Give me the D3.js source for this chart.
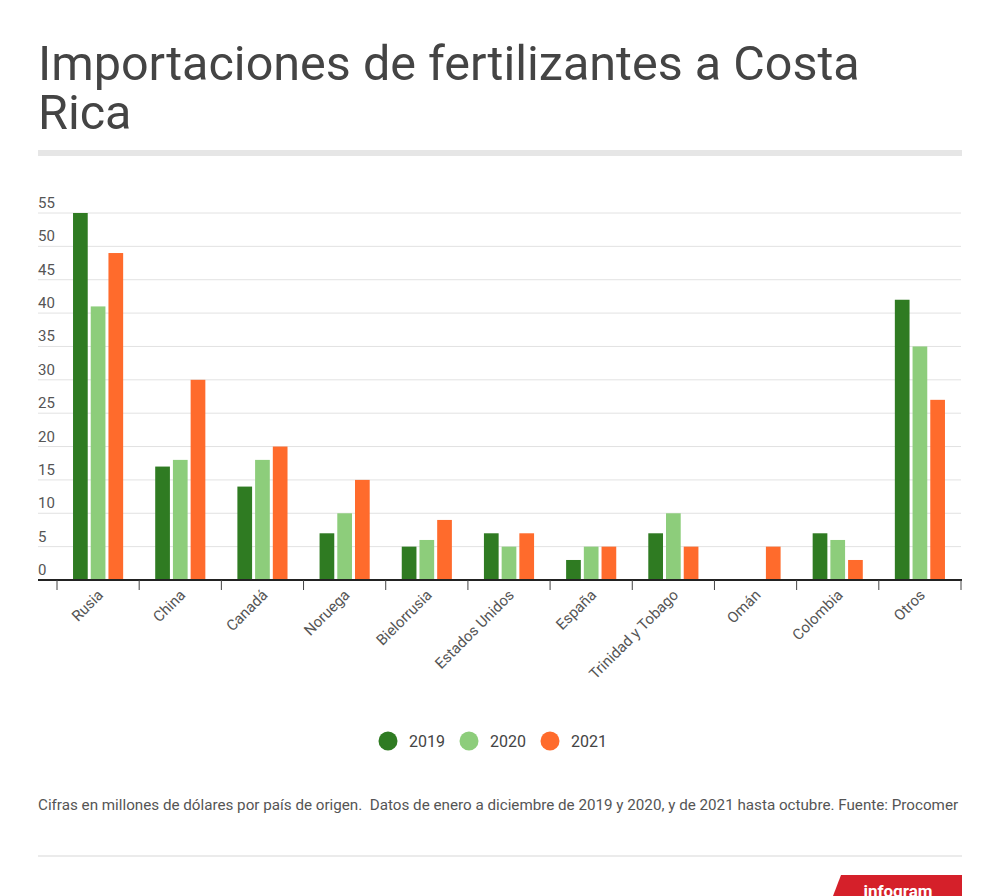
<!DOCTYPE html>
<html>
<head>
<meta charset="utf-8">
<script src="https://cdn.jsdelivr.net/npm/d3@7"></script>
<style>
  body { margin: 0; background: #fff; }
  text { font-family: Roboto, "Noto Sans", sans-serif; }
</style>
</head>
<body>
<div id="chart"></div>
<script>
// datos: millones de dólares
var paises = ["Rusia", "China", "Canadá", "Noruega", "Bielorrusia", "Estados Unidos",
  "España", "Trinidad y Tobago", "Omán", "Colombia", "Otros"];
var anios = ["2019", "2020", "2021"];
var v2019 = [55, 17, 14, 7, 5, 7, 3, 7, 0, 7, 42];
var v2020 = [41, 18, 18, 10, 6, 5, 5, 10, 0, 6, 35];
var v2021 = [49, 30, 20, 15, 9, 7, 5, 5, 5, 3, 27];
var yTicks = [0, 5, 10, 15, 20, 25, 30, 35, 40, 45, 50, 55];
var colores = ["#2f7b22", "#8dcd7b", "#ff6b2c"];

var series = [v2019, v2020, v2021];
var filas = paises.map(function(p, i) {
  return {pais: p, valores: series.map(function(s) { return s[i]; })};
});

var W = 1000, H = 896;
var svg = d3.select('#chart').append('svg').attr('width', W).attr('height', H);

// titulo (dos lineas)
svg.append('text').attr('x', 38).attr('y', 80)
  .style('font-size', '48.5px').attr('fill', '#444')
  .text('Importaciones de fertilizantes a Costa');
svg.append('text').attr('x', 38).attr('y', 129)
  .style('font-size', '48.5px').attr('fill', '#444')
  .text('Rica');

svg.append('rect').attr('x', 38).attr('y', 150).attr('width', 924).attr('height', 6).attr('fill', '#e6e6e6');

var x0 = d3.scaleBand().domain(paises).range([57, 961]).paddingInner(0.39).paddingOuter(0.195);
var x1 = d3.scaleBand().domain(anios).range([0, x0.bandwidth()]).paddingInner(0.17);
var y = d3.scaleLinear().domain([0, 55]).range([580, 213]);

// rejilla
svg.append('g').selectAll('line').data(yTicks.filter(function(d) { return d > 0; })).join('line')
  .attr('x1', 38).attr('x2', 961)
  .attr('y1', function(d) { return y(d); }).attr('y2', function(d) { return y(d); })
  .attr('stroke', '#e2e2e2').attr('stroke-width', 1);

svg.append('g').selectAll('text').data(yTicks).join('text')
  .attr('x', 38).attr('y', function(d) { return y(d) - 5; })
  .style('font-size', '15px').attr('fill', '#555')
  .text(function(d) { return d; });

// barras
svg.append('g').selectAll('g').data(filas).join('g')
  .attr('transform', function(d) { return 'translate(' + x0(d.pais) + ',0)'; })
  .selectAll('rect').data(function(d) { return d.valores.map(function(v, k) { return {k: k, v: v}; }); })
  .join('rect')
  .attr('x', function(d) { return x1(anios[d.k]); })
  .attr('width', x1.bandwidth())
  .attr('y', function(d) { return y(d.v); })
  .attr('height', function(d) { return y(0) - y(d.v); })
  .attr('fill', function(d) { return colores[d.k]; });

// eje x
var ejeX = svg.append('g').attr('transform', 'translate(0,580)');
ejeX.append('line').attr('x1', 38).attr('x2', 962).attr('stroke', '#222').attr('stroke-width', 2);
var bordes = paises.map(function(p) { return x0(p) - x0.step() * x0.paddingOuter(); });
bordes.push(961);
ejeX.selectAll('line.tick').data(bordes).join('line').attr('class', 'tick')
  .attr('x1', function(d) { return d; }).attr('x2', function(d) { return d; })
  .attr('y1', 0).attr('y2', 10).attr('stroke', '#444').attr('stroke-width', 1);
ejeX.selectAll('text').data(paises).join('text')
  .attr('text-anchor', 'end')
  .attr('transform', function(d) { return 'translate(' + (x0(d) + x0.bandwidth() / 2 + 6) + ',16) rotate(-45)'; })
  .style('font-size', '15px').attr('fill', '#555')
  .text(function(d) { return d; });

// leyenda
var ley = svg.append('g').attr('transform', 'translate(388,741)');
var items = ley.selectAll('g').data(anios).join('g')
  .attr('transform', function(d, i) { return 'translate(' + (i * 81) + ',0)'; });
items.append('circle').attr('r', 9.5).attr('fill', function(d, i) { return colores[i]; });
items.append('text').attr('x', 21).attr('y', 5.5).style('font-size', '16px').attr('fill', '#444')
  .text(function(d) { return d; });

// nota
svg.append('text').attr('x', 38).attr('y', 810).style('font-size', '15.2px').attr('fill', '#555')
  .attr('xml:space', 'preserve')
  .text('Cifras en millones de dólares por país de origen.  Datos de enero a diciembre de 2019 y 2020, y de 2021 hasta octubre. Fuente: Procomer');

svg.append('line').attr('x1', 38).attr('x2', 962).attr('y1', 856).attr('y2', 856)
  .attr('stroke', '#e4e4e4').attr('stroke-width', 1.5);

// logo (cortado por el borde inferior, como en el original)
var logo = svg.append('g');
logo.append('path').attr('d', 'M841,875 L962,875 L962,896 L833,896 Z').attr('fill', '#d5202a');
logo.append('text').attr('x', 898).attr('y', 897).attr('text-anchor', 'middle')
  .style('font-size', '17px').style('font-weight', 'bold').attr('fill', '#fff').text('infogram');
</script>
</body>
</html>
